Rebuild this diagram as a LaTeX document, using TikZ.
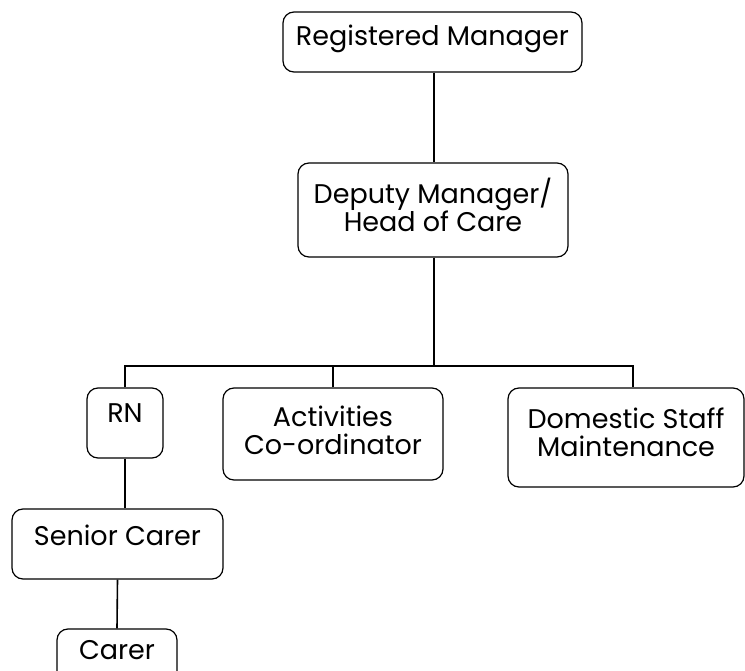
\documentclass[tikz,border=0pt]{standalone}
\usepackage{fontspec}
\setmainfont{Poppins}
\begin{document}
\begin{tikzpicture}[x=1pt,y=-1pt,
  box/.style={draw, line width=1.2pt, rounded corners=11pt, inner sep=0pt, align=center,
    font=\fontsize{27}{28}\selectfont},
  tshift/.style={text height=25pt, text depth={25pt-2*(#1)}},
  mshift/.style={text depth=#1},
  link/.style={line width=1.6pt}]
\useasboundingbox (0,0) rectangle (745,671);
\clip (0,0) rectangle (745,671);
\node[box, minimum width=299pt, minimum height=60pt, tshift=3.6pt] (rm) at (432.5,42) {Registered Manager};
\node[box, minimum width=270pt, minimum height=94pt, mshift=10pt] (dm) at (433,210) {Deputy Manager/\\Head of Care};
\node[box, minimum width=76pt, minimum height=70pt, tshift=-1pt] (rn) at (125,423) {RN};
\node[box, minimum width=220pt, minimum height=92pt, mshift=8pt] (act) at (333,434) {Activities\\Co-ordinator};
\node[box, minimum width=236pt, minimum height=99pt, mshift=10pt] (dom) at (626,437.5) {Domestic Staff\\Maintenance};
\node[box, minimum width=211pt, minimum height=70pt, tshift=1pt] (sc) at (117.5,544) {Senior Carer};
\node[box, minimum width=120pt, minimum height=70pt, tshift=-5pt] (cr) at (117,664) {Carer};
\coordinate (bar) at (434,366);
\coordinate (br) at (633,366);
\draw[link] (rm.south -| bar) -- (bar |- dm.north);
\draw[link] (bar |- dm.south) -- (bar);
\draw[link] (rn.north) |- (br) -- (br |- dom.north);
\draw[link] (act.north) -- (act.north |- bar);
\draw[link] (rn.south) -- (rn.south |- sc.north);
\draw[link] (sc.south) -- (cr.north);
\end{tikzpicture}
\end{document}
